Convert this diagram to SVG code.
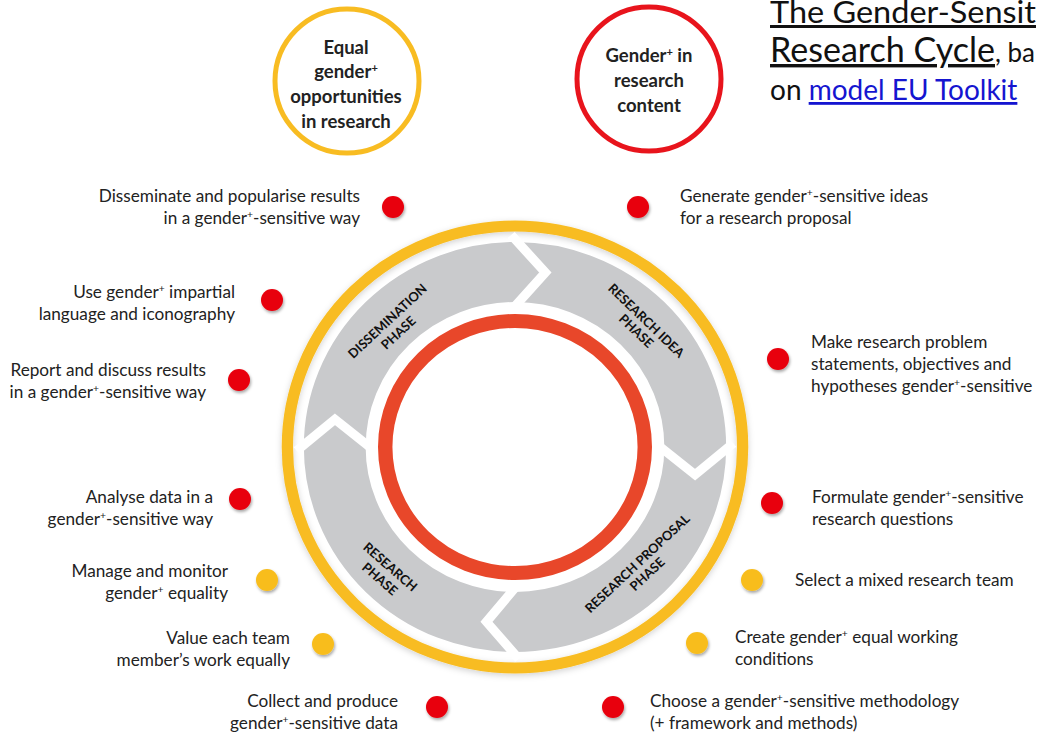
<svg xmlns="http://www.w3.org/2000/svg" width="1040" height="736" viewBox="0 0 1040 736">
<defs>
<style>
.lbl{font-family:Lato,"Open Sans","Liberation Sans",sans-serif;font-size:17.2px;fill:#222}
.end{text-anchor:end}
.sup{font-size:60%;baseline-shift:super}
.ph{font-family:Lato,"Liberation Sans",sans-serif;font-weight:bold;font-size:13px;fill:#111;text-anchor:middle}
.ct{font-family:Lato,"Liberation Sans",sans-serif;font-weight:bold;font-size:18.5px;fill:#222;text-anchor:middle}
.dr{fill:#e8000b;filter:url(#sh)}
.dy{fill:#f8bd1e;filter:url(#sh)}
.ttl{font-family:Lato,"Liberation Sans",sans-serif;fill:#111}
.lnk{fill:#1515d0;text-decoration:underline}
</style>
<filter id="sh" x="-50%" y="-50%" width="200%" height="200%">
<feDropShadow dx="1" dy="2" stdDeviation="1.5" flood-color="#000" flood-opacity="0.35"/>
</filter>
<filter id="glow" x="-20%" y="-20%" width="140%" height="140%">
<feDropShadow dx="0" dy="2" stdDeviation="3" flood-color="#000" flood-opacity="0.18"/>
</filter>
</defs>
<rect width="1040" height="736" fill="#fff"/>

<g id="cycle" transform="translate(515 447) scale(1.03 1)">
<circle r="221" fill="none" stroke="#f8bc22" stroke-width="11" filter="url(#glow)"/>
<circle r="175" fill="none" stroke="#c9cacc" stroke-width="60"/>
<circle r="126" fill="none" stroke="#e8472a" stroke-width="14"/>
</g>

<g id="connectors" transform="translate(515 447) scale(1.03 1)" fill="none" stroke="#fff" stroke-width="9" stroke-linejoin="miter">
<polyline points="-3.70,-211.97 29.5,-174.5 -2.41,-137.98"/>
<polyline points="211.97,-3.70 174.82,27.69 137.98,-2.41"/>
<polyline points="3.70,211.97 -27.69,174.82 2.41,137.98"/>
<polyline points="-211.97,3.70 -174.82,-27.69 -137.98,2.41"/>
</g>

<g id="phase-dissemination"><text class="ph" transform="translate(393 327) rotate(-43)"><tspan x="0" y="-3.5">DISSEMINATION</tspan><tspan x="0" y="12.5">PHASE</tspan></text></g>
<g id="phase-idea"><text class="ph" transform="translate(641 326) rotate(44)"><tspan x="0" y="-3">RESEARCH IDEA</tspan><tspan x="0" y="11.5">PHASE</tspan></text></g>
<g id="phase-research"><text class="ph" transform="translate(385 573) rotate(41)"><tspan x="0" y="-3.5">RESEARCH</tspan><tspan x="0" y="12.5">PHASE</tspan></text></g>
<g id="phase-proposal"><text class="ph" transform="translate(642.5 569) rotate(-43)"><tspan x="0" y="-3">RESEARCH PROPOSAL</tspan><tspan x="0" y="11.5">PHASE</tspan></text></g>

<g id="circle-equal">
<circle cx="347" cy="81" r="72" fill="#fff" stroke="#f8bc22" stroke-width="5"/>
<text class="ct"><tspan x="346" y="54">Equal</tspan><tspan x="346" y="78">gender<tspan class="sup">+</tspan></tspan><tspan x="346" y="103">opportunities</tspan><tspan x="346" y="128">in research</tspan></text>
</g>
<g id="circle-content">
<circle cx="649" cy="79" r="72" fill="#fff" stroke="#e8141c" stroke-width="5"/>
<text class="ct"><tspan x="649" y="62">Gender<tspan class="sup">+</tspan> in</tspan><tspan x="649" y="87">research</tspan><tspan x="649" y="112">content</tspan></text>
</g>

<g id="title" class="ttl">
<text x="770" y="23" font-size="30" text-decoration="underline" textLength="266" lengthAdjust="spacingAndGlyphs">The Gender-Sensit</text>
<text x="770" y="62" font-size="34"><tspan text-decoration="underline" textLength="225" lengthAdjust="spacingAndGlyphs">Research Cycle</tspan><tspan font-size="26">, ba</tspan></text>
<text x="770" y="100" font-size="28">on <tspan class="lnk">model EU Toolkit</tspan></text>
</g>

<g id="item-disseminate"><circle class="dr" cx="393" cy="207" r="11"/><text class="lbl end"><tspan x="360" y="202">Disseminate and popularise results</tspan><tspan x="360" y="224">in a gender<tspan class="sup">+</tspan>-sensitive way</tspan></text></g>
<g id="item-language"><circle class="dr" cx="272" cy="300" r="11"/><text class="lbl end"><tspan x="235" y="298">Use gender<tspan class="sup">+</tspan> impartial</tspan><tspan x="235" y="320">language and iconography</tspan></text></g>
<g id="item-report"><circle class="dr" cx="239" cy="380" r="11"/><text class="lbl end"><tspan x="206" y="376">Report and discuss results</tspan><tspan x="206" y="398">in a gender<tspan class="sup">+</tspan>-sensitive way</tspan></text></g>
<g id="item-analyse"><circle class="dr" cx="240" cy="499" r="11"/><text class="lbl end"><tspan x="213" y="503">Analyse data in a</tspan><tspan x="213" y="525">gender<tspan class="sup">+</tspan>-sensitive way</tspan></text></g>
<g id="item-manage"><circle class="dy" cx="267" cy="580" r="11"/><text class="lbl end"><tspan x="228" y="577">Manage and monitor</tspan><tspan x="228" y="599">gender<tspan class="sup">+</tspan> equality</tspan></text></g>
<g id="item-value"><circle class="dy" cx="323" cy="644" r="11"/><text class="lbl end"><tspan x="290" y="644">Value each team</tspan><tspan x="290" y="666">member’s work equally</tspan></text></g>
<g id="item-collect"><circle class="dr" cx="437" cy="707" r="11"/><text class="lbl end"><tspan x="398" y="707">Collect and produce</tspan><tspan x="398" y="729">gender<tspan class="sup">+</tspan>-sensitive data</tspan></text></g>

<g id="item-generate"><circle class="dr" cx="638" cy="207" r="11"/><text class="lbl"><tspan x="680" y="202">Generate gender<tspan class="sup">+</tspan>-sensitive ideas</tspan><tspan x="680" y="224">for a research proposal</tspan></text></g>
<g id="item-problem"><circle class="dr" cx="778" cy="359" r="11"/><text class="lbl"><tspan x="811" y="348">Make research problem</tspan><tspan x="811" y="370">statements, objectives and</tspan><tspan x="811" y="392">hypotheses gender<tspan class="sup">+</tspan>-sensitive</tspan></text></g>
<g id="item-questions"><circle class="dr" cx="772" cy="503" r="11"/><text class="lbl"><tspan x="812" y="503">Formulate gender<tspan class="sup">+</tspan>-sensitive</tspan><tspan x="812" y="525">research questions</tspan></text></g>
<g id="item-team"><circle class="dy" cx="752" cy="580" r="11"/><text class="lbl"><tspan x="795" y="586">Select a mixed research team</tspan></text></g>
<g id="item-conditions"><circle class="dy" cx="697" cy="643" r="11"/><text class="lbl"><tspan x="735" y="643">Create gender<tspan class="sup">+</tspan> equal working</tspan><tspan x="735" y="665">conditions</tspan></text></g>
<g id="item-methodology"><circle class="dr" cx="613" cy="707" r="11"/><text class="lbl"><tspan x="650" y="707">Choose a gender<tspan class="sup">+</tspan>-sensitive methodology</tspan><tspan x="650" y="729">(+ framework and methods)</tspan></text></g>
</svg>
